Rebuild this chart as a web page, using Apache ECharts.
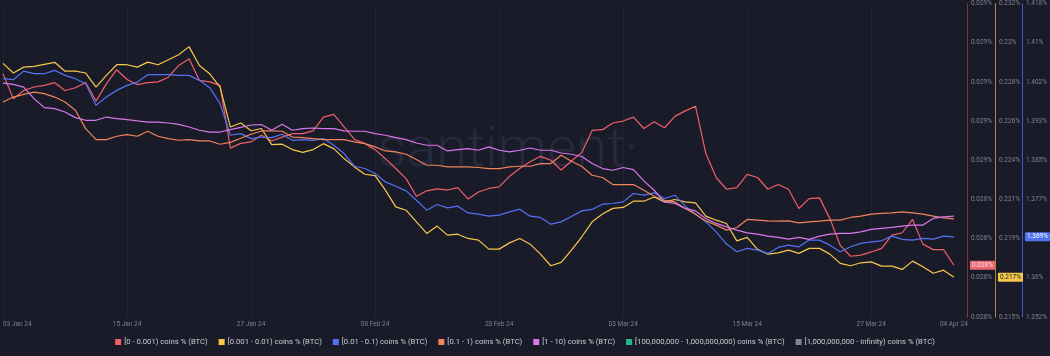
<!DOCTYPE html>
<html><head><meta charset="utf-8">
<script src="https://cdn.jsdelivr.net/npm/echarts@6/dist/echarts.min.js"></script>
<style>html,body{margin:0;padding:0;background:#1a1b29;}#c{width:1050px;height:356px;}</style>
</head><body><div id="c"></div>
<script>
const startDate = Date.UTC(2024, 0, 3);
const dayCount = 93;
const xTickLabels = ['03 Jan 24','15 Jan 24','27 Jan 24','08 Feb 24','20 Feb 24','03 Mar 24','15 Mar 24','27 Mar 24','04 Apr 24'];
const seriesNames = ['[0 - 0.001) coins % (BTC)','[0.001 - 0.01) coins % (BTC)','[0.01 - 0.1) coins % (BTC)','[0.1 - 1) coins % (BTC)','[1 - 10) coins % (BTC)','[100,000,000 - 1,000,000,000) coins % (BTC)','[1,000,000,000 - infinity) coins % (BTC)'];
const colors = ['#ee5f69','#f6c84a','#5272f2','#f0845a','#d878ea','#22b889','#82848f'];

const red = [0.028781,0.028717,0.028738,0.028747,0.028751,0.028758,0.028738,0.028745,0.028758,0.028711,
0.028755,0.028791,0.028766,0.028753,0.028758,0.02876,0.028772,0.028802,0.028819,0.028764,
0.02876,0.028751,0.028591,0.028603,0.028607,0.028624,0.028609,0.028619,0.028628,0.028628,
0.028635,0.02867,0.028677,0.028645,0.028613,0.028603,0.028587,0.028564,0.028539,0.028513,
0.028468,0.028482,0.028487,0.028484,0.02849,0.028461,0.028479,0.028488,0.028492,0.028519,
0.028539,0.028556,0.02857,0.02856,0.028535,0.028558,0.02858,0.028636,0.028638,0.028655,
0.02866,0.02867,0.028641,0.028658,0.028643,0.028672,0.028686,0.028698,0.028577,0.028516,
0.028486,0.02849,0.028524,0.028516,0.028486,0.028498,0.028486,0.028437,0.028462,0.028464,
0.028411,0.028343,0.028315,0.028318,0.028326,0.028335,0.028369,0.028375,0.028409,0.028346,
0.028332,0.028332,0.028292];
const yellow = [0.22875,0.22823,0.22855,0.22859,0.2287,0.22881,0.22833,0.22833,0.22823,0.22747,
0.2281,0.22868,0.22868,0.22855,0.22882,0.22868,0.22895,0.22922,0.22966,0.22864,
0.22819,0.22747,0.2253,0.22552,0.2251,0.22522,0.22435,0.22437,0.22408,0.22393,
0.22408,0.2244,0.22413,0.22359,0.22314,0.22274,0.22267,0.22188,0.22097,0.22079,
0.22016,0.21953,0.21993,0.21944,0.21949,0.21926,0.21917,0.21868,0.21868,0.21902,
0.21926,0.21895,0.21841,0.21778,0.21796,0.21863,0.21935,0.22016,0.22058,0.22089,
0.22094,0.22128,0.22128,0.22151,0.22124,0.22137,0.22124,0.22119,0.22047,0.22025,
0.22007,0.21913,0.21932,0.21867,0.21841,0.21848,0.21863,0.21845,0.21872,0.21872,
0.21841,0.21791,0.21778,0.21794,0.21799,0.21776,0.21776,0.21758,0.21803,0.21772,
0.21737,0.21754,0.21715];
const blue = [1.40217,1.40196,1.40377,1.40322,1.40322,1.40392,1.40287,1.40217,1.40112,1.39656,
1.39831,1.39971,1.40076,1.40146,1.40301,1.40301,1.40301,1.40287,1.40287,1.40182,
1.40028,1.39692,1.39026,1.39061,1.38956,1.3899,1.38977,1.39047,1.3892,1.38935,
1.3892,1.38956,1.38815,1.38641,1.38374,1.38326,1.38221,1.38044,1.37954,1.37855,
1.37659,1.37449,1.37569,1.37497,1.37533,1.37392,1.37365,1.37323,1.37344,1.37413,
1.3747,1.37323,1.37296,1.37155,1.37203,1.37317,1.37434,1.37464,1.37575,1.3759,
1.37624,1.378,1.37764,1.37813,1.37695,1.37764,1.37533,1.37365,1.37203,1.36993,
1.36735,1.36573,1.36644,1.36608,1.36539,1.36665,1.36713,1.36678,1.36819,1.36819,
1.36713,1.36573,1.36678,1.36749,1.36783,1.36804,1.36903,1.36833,1.36819,1.36854,
1.3684,1.36903,1.36888];
const orange = [4.8194,4.8245,4.8273,4.8296,4.828,4.8245,4.8194,4.811,4.7923,4.7811,
4.7811,4.7845,4.7862,4.7845,4.7896,4.7845,4.7821,4.7804,4.7811,4.7797,
4.7797,4.7763,4.7783,4.7824,4.7865,4.7899,4.7899,4.7896,4.7837,4.7831,
4.7821,4.7811,4.7811,4.7811,4.7787,4.777,4.7736,4.7695,4.7685,4.7661,
4.7607,4.7549,4.7549,4.7532,4.7532,4.7532,4.7526,4.7515,4.7515,4.7532,
4.7539,4.7539,4.7566,4.7566,4.7651,4.759,4.7536,4.7447,4.7424,4.7352,
4.7352,4.7352,4.7294,4.7233,4.7192,4.7175,4.7108,4.705,4.6981,4.6938,
4.6887,4.6914,4.6996,4.6989,4.6981,4.6978,4.6981,4.6961,4.6971,4.6978,
4.6989,4.6989,4.7016,4.7029,4.705,4.7057,4.7063,4.7073,4.7063,4.705,
4.7029,4.7012,4.7002];
const pink = [7.3388,7.3375,7.3347,7.3229,7.3137,7.3127,7.3092,7.3035,7.3008,7.3008,
7.3041,7.3025,7.3015,7.3001,7.299,7.299,7.298,7.2967,7.2939,7.2906,
7.2888,7.2888,7.2913,7.2936,7.296,7.2964,7.2906,7.2967,7.2906,7.2923,
7.2929,7.2923,7.2923,7.2899,7.2896,7.2896,7.2872,7.2855,7.2831,7.2811,
7.2776,7.2753,7.2753,7.2695,7.2709,7.2719,7.2702,7.2736,7.2702,7.2685,
7.2702,7.2725,7.2702,7.2702,7.2674,7.2661,7.2638,7.2566,7.2515,7.2498,
7.2526,7.2505,7.2389,7.2294,7.2175,7.2159,7.2108,7.2083,7.2006,7.1955,
7.192,7.1887,7.1859,7.1846,7.1826,7.1812,7.1795,7.1812,7.1792,7.1826,
7.1846,7.1853,7.1853,7.1869,7.1894,7.1904,7.1914,7.1927,7.1938,7.1938,
7.2006,7.2022,7.2029];
const green = [];
const gray = [];

const redRange = [0.02816, 0.02896];
const yellowRange = [0.215, 0.232];
const blueRange = [1.352, 1.418];
const orangeRange = [4.60, 4.92];
const pinkRange = [7.10, 7.42];

const MON = ['Jan','Feb','Mar','Apr','May','Jun','Jul','Aug','Sep','Oct','Nov','Dec'];
const dates = [];
for (let i = 0; i < dayCount; i++) {
  const d = new Date(startDate + i * 86400000);
  dates.push(String(d.getUTCDate()).padStart(2,'0') + ' ' + MON[d.getUTCMonth()] + ' ' + String(d.getUTCFullYear()).slice(2));
}
function ticks(r) { const a = []; for (let i = 0; i <= 8; i++) a.push(r[0] + (r[1]-r[0]) * i / 8); return a; }
function fmt(v) { return (Math.round(v * 1000 + 1e-6) / 1000) + '%'; }
const FONT = 'Roboto';

function visAxis(range, offset, color, lineColor, last, badgeText) {
  return {
    type: 'value', position: 'right', offset: offset, min: range[0], max: range[1],
    axisLine: { show: true, lineStyle: { color: lineColor, width: 1 } },
    axisTick: { show: false },
    splitLine: { show: false },
    axisLabel: { customValues: ticks(range), formatter: fmt, color: '#81848f', fontSize: 6.5, margin: 4, fontFamily: FONT },
    axisPointer: {
      show: true, type: 'none', status: 'show', value: last, triggerTooltip: false,
      label: { show: true, formatter: p => fmt(p.value), backgroundColor: color, color: badgeText, fontSize: 6.5, padding: [1, 2, 1, 2], margin: 3, fontFamily: FONT, borderRadius: 1 }
    }
  };
}
function hiddenAxis(range) { return { type: 'value', show: false, min: range[0], max: range[1], splitLine: { show: false } }; }

const chart = echarts.init(document.getElementById('c'), null, { renderer: 'canvas' });
const seriesData = [red, yellow, blue, orange, pink, green, gray];
chart.setOption({
  backgroundColor: '#1a1b29',
  animation: false,
  color: colors,
  grid: { left: 0, right: 96, top: 3, bottom: 39 },
  graphic: [{ type: 'text', left: 364, top: 124, z: 0, style: { text: '\u00B7santiment\u00B7', font: '300 56px Roboto', fill: '#272a3c' } }],
  legend: {
    top: 333, left: 'center', itemWidth: 6, itemHeight: 6, itemGap: 11, icon: 'rect',
    textStyle: { color: '#cacbd3', fontSize: 7.7, fontFamily: FONT, padding: [0, 0, 0, -2] },
    data: seriesNames
  },
  xAxis: {
    type: 'category', data: dates, boundaryGap: false,
    axisLine: { show: false }, axisTick: { show: false },
    axisLabel: { interval: (i) => i % 12 === 0 || i === dayCount - 1, color: '#7d808c', fontSize: 6.5, margin: 4, fontFamily: FONT, alignMinLabel: 'left', formatter: v => xTickLabels.includes(v) ? v : '' },
    splitLine: { show: true, interval: (i) => i % 12 === 0, lineStyle: { color: '#212333', width: 1 } }
  },
  yAxis: [
    visAxis(redRange, 13, '#ec6670', 'rgba(200,80,90,0.55)', red[red.length-1], '#fbe0e2'),
    visAxis(yellowRange, 41, '#f6c84a', 'rgba(215,175,90,0.75)', yellow[yellow.length-1], '#1a1b29'),
    visAxis(blueRange, 68, '#5272f2', 'rgba(82,114,242,0.75)', blue[blue.length-1], '#ffffff'),
    hiddenAxis(orangeRange), hiddenAxis(pinkRange), hiddenAxis([0, 1]), hiddenAxis([0, 1])
  ],
  series: seriesNames.map((n, i) => ({
    name: n, type: 'line', yAxisIndex: i, data: seriesData[i], showSymbol: false, symbol: 'none',
    lineStyle: { width: 1.2, color: colors[i] }, itemStyle: { color: colors[i] }, z: 3
  }))
});
</script></body></html>
